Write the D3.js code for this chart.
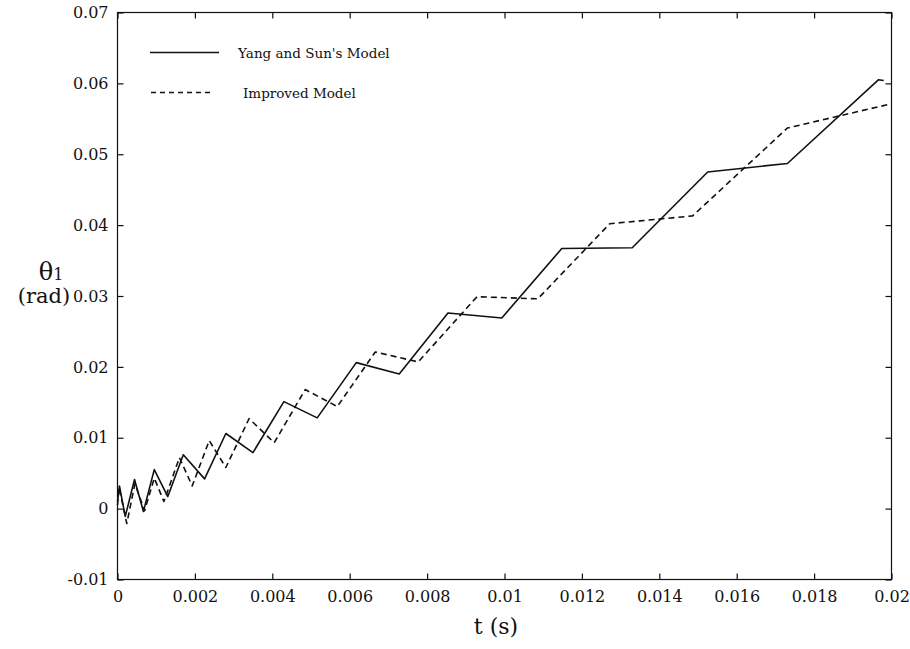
<!DOCTYPE html>
<html>
<head>
<meta charset="utf-8">
<script src="https://cdn.jsdelivr.net/npm/d3@7"></script>
<style>
body{margin:0;background:#fff;}
</style>
</head>
<body>
<svg id="chart" width="910" height="649"></svg>
<script>
// Data (t in seconds, theta1 in rad)
const yangT = [0, 0.00005, 0.0002, 0.00044, 0.00067, 0.00095, 0.0013, 0.0017, 0.00225, 0.0028, 0.0035, 0.0043, 0.00516, 0.00617, 0.00728, 0.00854, 0.00993, 0.01148, 0.0133, 0.01525, 0.01731, 0.01966, 0.0198];
const yangV = [0.0010, 0.0032, -0.0011, 0.0041, -0.0004, 0.0055, 0.0017, 0.0076, 0.0042, 0.0106, 0.0079, 0.0151, 0.0128, 0.0206, 0.0190, 0.0276, 0.0269, 0.0367, 0.0368, 0.0475, 0.0487, 0.0605, 0.0604];
const impT = [0, 0.00004, 0.00024, 0.00045, 0.0007, 0.00095, 0.0012, 0.0016, 0.00193, 0.00237, 0.0028, 0.0034, 0.00405, 0.00485, 0.00568, 0.00666, 0.00777, 0.00929, 0.01086, 0.01272, 0.0135, 0.01486, 0.01731, 0.0199];
const impV = [0.0005, 0.0030, -0.0021, 0.0035, -0.0003, 0.0043, 0.0010, 0.0072, 0.0032, 0.0096, 0.0058, 0.0127, 0.0093, 0.0168, 0.0144, 0.0221, 0.0207, 0.0299, 0.0296, 0.0402, 0.0406, 0.0413, 0.0537, 0.0570];
const xTicks = [0, 0.002, 0.004, 0.006, 0.008, 0.01, 0.012, 0.014, 0.016, 0.018, 0.02];
const xTickLabels = ["0", "0.002", "0.004", "0.006", "0.008", "0.01", "0.012", "0.014", "0.016", "0.018", "0.02"];
const yTicks = [-0.01, 0, 0.01, 0.02, 0.03, 0.04, 0.05, 0.06, 0.07];
const yTickLabels = ["-0.01", "0", "0.01", "0.02", "0.03", "0.04", "0.05", "0.06", "0.07"];
const seriesNames = ["Yang and Sun's Model", "Improved Model"];

const FONT = "DejaVu Serif";
const L = 117.5, R = 891.5, T = 12.5, B = 579.5;
const svg = d3.select("#chart");
const x = d3.scaleLinear().domain([0, 0.02]).range([L, R]);
const y = d3.scaleLinear().domain([-0.01, 0.07]).range([B, T]);

svg.append("rect").attr("x", L).attr("y", T).attr("width", R - L).attr("height", B - T)
  .attr("fill", "none").attr("stroke", "#111").attr("stroke-width", 1.2);

const xb = svg.append("g").attr("transform", `translate(0,${B})`)
  .call(d3.axisBottom(x).tickValues(xTicks).tickSizeInner(-6).tickSizeOuter(0).tickPadding(11)
    .tickFormat((d, i) => xTickLabels[i]));
const xt = svg.append("g").attr("transform", `translate(0,${T})`)
  .call(d3.axisTop(x).tickValues(xTicks).tickSizeInner(-6).tickSizeOuter(0).tickFormat(""));
const yl = svg.append("g").attr("transform", `translate(${L},0)`)
  .call(d3.axisLeft(y).tickValues(yTicks).tickSizeInner(-6).tickSizeOuter(0).tickPadding(9)
    .tickFormat((d, i) => yTickLabels[i]));
const yr = svg.append("g").attr("transform", `translate(${R},0)`)
  .call(d3.axisRight(y).tickValues(yTicks).tickSizeInner(-6).tickSizeOuter(0).tickFormat(""));
[xb, xt, yl, yr].forEach(g => {
  g.attr("font-family", FONT).attr("font-size", 16);
  g.select(".domain").remove();
  g.selectAll("line").attr("stroke", "#111").attr("stroke-width", 1.2);
  g.selectAll("text").attr("fill", "#111");
});

const line = d3.line().x(d => x(d[0])).y(d => y(d[1]));
const yangData = yangT.map((t, i) => [t, yangV[i]]);
const impData = impT.map((t, i) => [t, impV[i]]);
svg.append("path").datum(yangData).attr("d", line).attr("fill", "none")
  .attr("stroke", "#111").attr("stroke-width", 1.6).attr("stroke-linejoin", "round");
svg.append("path").datum(impData).attr("d", line).attr("fill", "none")
  .attr("stroke", "#111").attr("stroke-width", 1.6).attr("stroke-dasharray", "6,4").attr("stroke-linejoin", "round");

const leg = svg.append("g").attr("font-family", FONT).attr("font-size", 13.5).attr("fill", "#111");
leg.append("line").attr("x1", 150).attr("x2", 219).attr("y1", 52.5).attr("y2", 52.5)
  .attr("stroke", "#111").attr("stroke-width", 1.3);
leg.append("text").attr("x", 238).attr("y", 58).text(seriesNames[0]);
leg.append("line").attr("x1", 151).attr("x2", 214).attr("y1", 92.5).attr("y2", 92.5)
  .attr("stroke", "#111").attr("stroke-width", 1.3).attr("stroke-dasharray", "5,4");
leg.append("text").attr("x", 243).attr("y", 98).text(seriesNames[1]);

const ttl = svg.append("g").attr("font-family", FONT).attr("font-size", 22).attr("fill", "#111");
ttl.append("text").attr("x", 496).attr("y", 634).attr("text-anchor", "middle").text("t (s)");
const yt = ttl.append("text").attr("x", 51).attr("y", 280).attr("text-anchor", "middle").attr("font-size", 24);
yt.append("tspan").text("θ");
yt.append("tspan").attr("font-size", 16).text("1");
ttl.append("text").attr("x", 44).attr("y", 303).attr("text-anchor", "middle").attr("font-size", 21).text("(rad)");
</script>
</body>
</html>
